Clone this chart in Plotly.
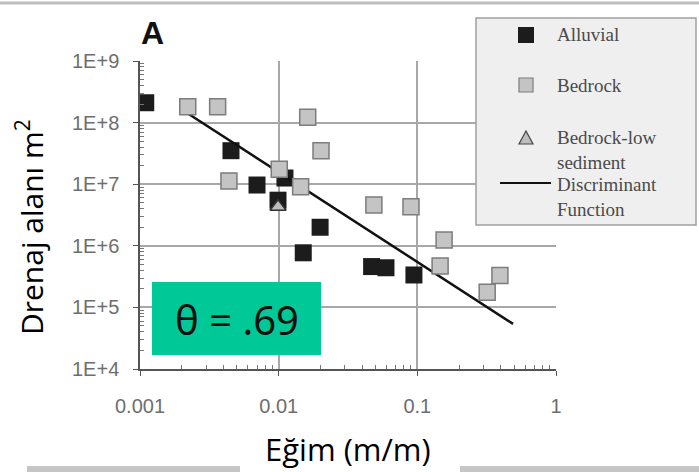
import plotly.graph_objects as go

# ---- data ----
alluvial_slope = [0.0011, 0.00453, 0.00698, 0.0111, 0.00989, 0.0199, 0.01504, 0.0468, 0.0594, 0.0945]
alluvial_area = [2.1e8, 3.5e7, 9.7e6, 1.26e7, 5.5e6, 2.0e6, 7.7e5, 4.6e5, 4.4e5, 3.36e5]

bedrock_slope = [0.00221, 0.00363, 0.0162, 0.0202, 0.0101, 0.00438, 0.0144, 0.0486, 0.090, 0.156, 0.146, 0.394, 0.319]
bedrock_area = [1.81e8, 1.81e8, 1.22e8, 3.5e7, 1.75e7, 1.13e7, 9.1e6, 4.6e6, 4.3e6, 1.24e6, 4.7e5, 3.3e5, 1.76e5]

lowsed_slope = [0.0099]
lowsed_area = [4.3e6]

disc_slope = [0.0022, 0.49]
disc_area = [1.42e8, 5.4e4]

x_tickvals = [0.001, 0.01, 0.1, 1]
x_ticktext = ["0.001", "0.01", "0.1", "1"]
y_tickvals = [1e4, 1e5, 1e6, 1e7, 1e8, 1e9]
y_ticktext = ["1E+4", "1E+5", "1E+6", "1E+7", "1E+8", "1E+9"]

legend_labels = ["Alluvial", "Bedrock", "Bedrock-low<br>sediment", "Discriminant<br>Function"]
theta_text = "θ = .69"
x_title = "Eğim (m/m)"
y_title = "Drenaj alanı m<sup>2</sup>"
panel_label = "A"

x_minor = [m * 10.0 ** e for e in (-3, -2, -1) for m in range(2, 10)]
y_minor = [m * 10.0 ** e for e in (4, 5, 6, 7, 8) for m in range(2, 10)]

# ---- layout geometry ----
W, H = 699, 472
L, R, T, B = 140, 143, 61, 103
PW, PH = W - L - R, H - T - B


def px(x):
    return (x - L) / PW


def py(y):
    return (H - B - y) / PH


BLACK = "#1c1c1c"
GRAY_FILL = "#c4c4c4"
GRAY_LINE = "#7c7c7c"

fig = go.Figure()
fig.add_trace(go.Scatter(x=alluvial_slope, y=alluvial_area, mode="markers", name="Alluvial",
                         marker=dict(symbol="square", size=17, color=BLACK, line=dict(width=0))))
fig.add_trace(go.Scatter(x=disc_slope, y=disc_area, mode="lines", name="Discriminant Function",
                         line=dict(color="#111111", width=2.5)))
fig.add_trace(go.Scatter(x=bedrock_slope, y=bedrock_area, mode="markers", name="Bedrock",
                         marker=dict(symbol="square", size=16, color=GRAY_FILL,
                                     line=dict(width=1.5, color=GRAY_LINE))))
fig.add_trace(go.Scatter(x=lowsed_slope, y=lowsed_area, mode="markers", name="Bedrock-low sediment",
                         marker=dict(symbol="triangle-up", size=14, color="#bdbdbd",
                                     line=dict(width=1.5, color="#333333"))))

axis_common = dict(type="log", showline=True, linecolor="#555555", linewidth=1.5,
                   showgrid=True, gridcolor="#a8a8a8", gridwidth=1.5, zeroline=False,
                   ticks="outside", ticklen=5, tickcolor="#555555", tickwidth=1.2,
                   tickfont=dict(family="Liberation Sans, Arial, sans-serif", size=20, color="#6e6e6e"))

fig.update_xaxes(range=[-3, 0], tickmode="array", tickvals=x_tickvals, ticktext=x_ticktext,
                 ticklabelstandoff=13,
                 minor=dict(tickmode="array", tickvals=x_minor, ticks="inside", ticklen=4,
                            tickcolor="#777777", showgrid=False),
                 **axis_common)
fig.update_yaxes(range=[4, 9], tickmode="array", tickvals=y_tickvals, ticktext=y_ticktext,
                 ticklabelstandoff=10,
                 minor=dict(tickmode="array", tickvals=y_minor, ticks="inside", ticklen=4,
                            tickcolor="#777777", showgrid=False),
                 **axis_common)

shapes = []
# top slide rule
shapes.append(dict(type="line", xref="paper", yref="paper", x0=px(0), x1=px(W), y0=py(3), y1=py(3),
                   line=dict(color="#bdbdbd", width=3), layer="below"))
# bottom bar and white box behind x title
shapes.append(dict(type="rect", xref="paper", yref="paper", x0=px(27), x1=px(W), y0=py(472), y1=py(466),
                   fillcolor="#c6c6c6", line=dict(width=0), layer="below"))
shapes.append(dict(type="rect", xref="paper", yref="paper", x0=px(240), x1=px(460), y0=py(472), y1=py(425),
                   fillcolor="white", line=dict(width=0), layer="below"))
# theta box
shapes.append(dict(type="rect", xref="paper", yref="paper", x0=px(152), x1=px(321), y0=py(355), y1=py(282),
                   fillcolor="#00c896", line=dict(width=0), layer="above"))
# legend box
shapes.append(dict(type="rect", xref="paper", yref="paper", x0=px(476), x1=px(696), y0=py(225), y1=py(18),
                   fillcolor="#efefef", line=dict(color="#a0a0a0", width=1.5), layer="above"))
# legend symbols
shapes.append(dict(type="rect", xref="paper", yref="paper", x0=px(518), x1=px(534), y0=py(43), y1=py(27),
                   fillcolor=BLACK, line=dict(width=0), layer="above"))
shapes.append(dict(type="rect", xref="paper", yref="paper", x0=px(519), x1=px(533), y0=py(92), y1=py(78),
                   fillcolor=GRAY_FILL, line=dict(color=GRAY_LINE, width=1.2), layer="above"))
shapes.append(dict(type="path", xref="paper", yref="paper",
                   path=f"M {px(519)} {py(144)} L {px(533)} {py(144)} L {px(526)} {py(131)} Z",
                   fillcolor="#bdbdbd", line=dict(color="#444444", width=1.2), layer="above"))
shapes.append(dict(type="line", xref="paper", yref="paper", x0=px(500), x1=px(551), y0=py(183), y1=py(183),
                   line=dict(color="#111111", width=2.2), layer="above"))

annotations = []
leg_font = dict(family="Liberation Serif, Times New Roman, serif", size=19, color="#4a4a4a")
for text, yc in zip(legend_labels, [34, 85, 150, 197]):
    annotations.append(dict(text=text, xref="paper", yref="paper", x=px(555), y=py(yc),
                            xanchor="left", yanchor="middle", showarrow=False, align="left",
                            font=leg_font))
annotations.append(dict(text=theta_text, xref="paper", yref="paper", x=px(237), y=py(319),
                        xanchor="center", yanchor="middle", showarrow=False,
                        font=dict(family="Noto Sans, sans-serif", size=40, color="#111111")))
annotations.append(dict(text=f"<b>{panel_label}</b>", xref="paper", yref="paper", x=px(152), y=py(33),
                        xanchor="center", yanchor="middle", showarrow=False,
                        font=dict(family="Liberation Sans, Arial, sans-serif", size=32, color="#111111")))
annotations.append(dict(text=x_title, xref="paper", yref="paper", x=px(348), y=py(449),
                        xanchor="center", yanchor="middle", showarrow=False,
                        font=dict(family="Open Sans, sans-serif", size=31, color="#000000")))
annotations.append(dict(text=y_title, xref="paper", yref="paper", x=px(30), y=py(227),
                        xanchor="center", yanchor="middle", showarrow=False, textangle=-90,
                        font=dict(family="Open Sans, sans-serif", size=30, color="#000000")))

fig.update_layout(width=W, height=H, margin=dict(l=L, r=R, t=T, b=B, autoexpand=False),
                  paper_bgcolor="white", plot_bgcolor="white", showlegend=False,
                  shapes=shapes, annotations=annotations)

fig.write_html("out.html", config={"displayModeBar": False},
               post_script="document.body.style.margin='0';document.body.style.overflow='hidden';")
